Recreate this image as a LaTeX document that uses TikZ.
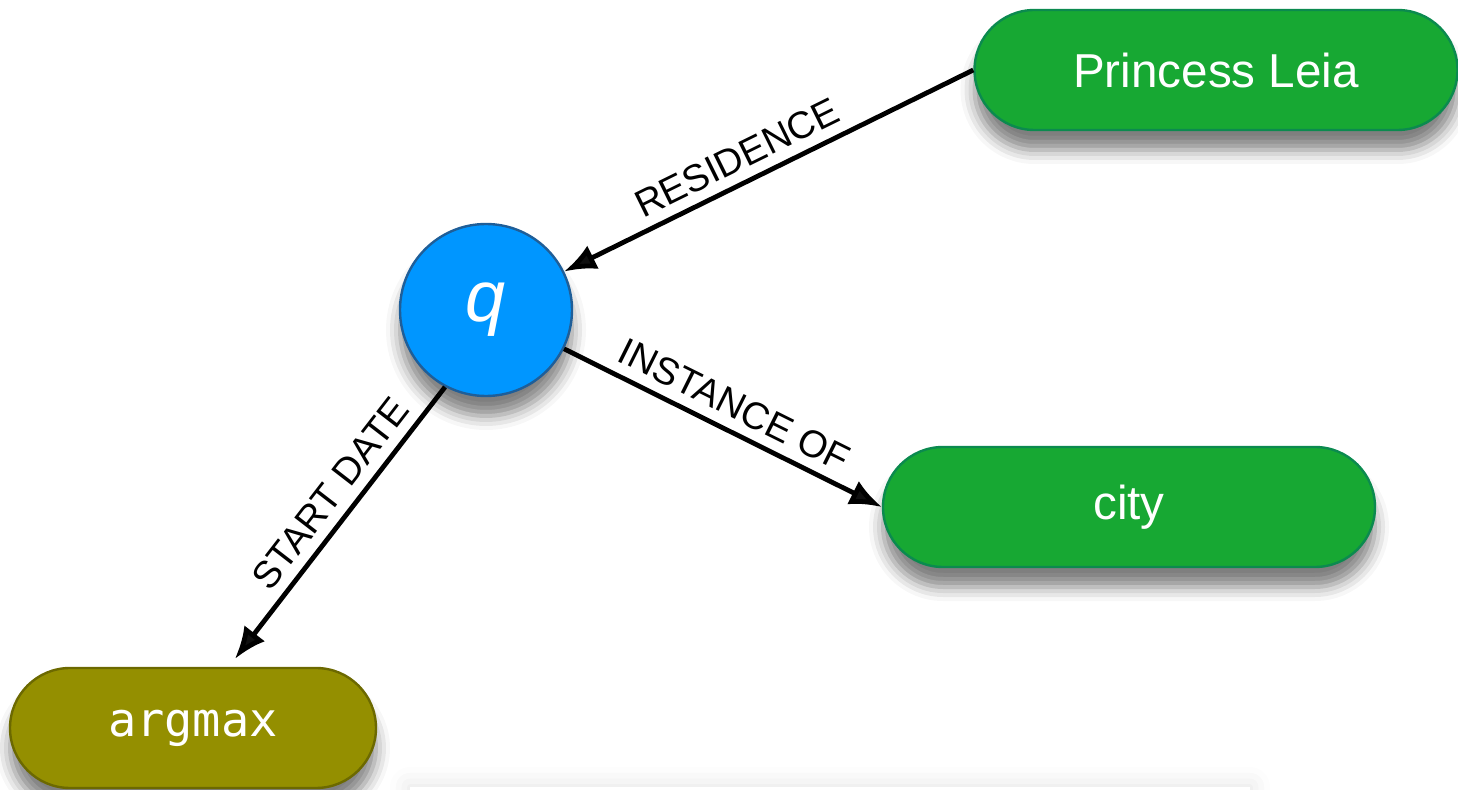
\documentclass[tikz,border=0pt]{standalone}
\usepackage{fontspec}
\setmainfont{Liberation Sans}
\setmonofont{DejaVu Sans Mono}
\usetikzlibrary{arrows.meta,shadows.blur}
\definecolor{entgreen}{HTML}{17A833}
\definecolor{entborder}{HTML}{0B8A4F}
\definecolor{qblue}{HTML}{0096FF}
\definecolor{qborder}{HTML}{1F5E98}
\definecolor{opfill}{HTML}{948F00}
\definecolor{opborder}{HTML}{6C6900}

\begin{document}
\begin{tikzpicture}[x=0.5pt,y=-0.5pt,
  softshadow/.style={blur shadow={shadow xshift=0pt,shadow yshift=-10pt,shadow blur radius=7pt,shadow opacity=50}},
  pill/.style={rectangle,rounded corners=30pt,minimum height=60pt,line width=1.2pt,text=white,softshadow},
  entity/.style={pill,fill=entgreen,draw=entborder,font=\fontsize{23.8}{28}\selectfont},
  opnode/.style={pill,fill=opfill,draw=opborder,font=\ttfamily\fontsize{23.5}{28}\selectfont},
  varnode/.style={circle,minimum size=86pt,fill=qblue,draw=qborder,line width=1.2pt,text=white,
    font=\itshape\fontsize{36}{40}\selectfont,softshadow},
  rel/.style={line width=2.4pt,-{Latex[length=16pt,width=13pt]}},
  rellabel/.style={sloped,above,inner sep=5pt,font=\fontsize{19}{22}\selectfont}]
  \useasboundingbox (0,0) rectangle (1458,790);
  \clip (0,0) rectangle (1458,790);

  \fill[white,blur shadow={shadow xshift=0pt,shadow yshift=0pt,shadow blur radius=10pt,shadow opacity=12}]
    (410,787) rectangle (1250,860);

  \node[entity,minimum width=241.5pt] (leia) at (1216,70) {Princess Leia};
  \node[entity,minimum width=246pt] (city) at (1129,507) {city};
  \node[opnode,minimum width=183pt] (argmax) at (193,728) {argmax};
  \node[varnode] (q) at (486,310) {q};

  \draw[rel] (leia.west) -- node[rellabel,pos=0.55] {RESIDENCE} (q);
  \draw[rel] (q) -- node[rellabel,pos=0.5] {INSTANCE OF} (city.west);
  \draw[rel] (q.-118) -- node[rellabel,pos=0.45] {START DATE} ([xshift=21pt,yshift=4pt]argmax.north);
\end{tikzpicture}
\end{document}
